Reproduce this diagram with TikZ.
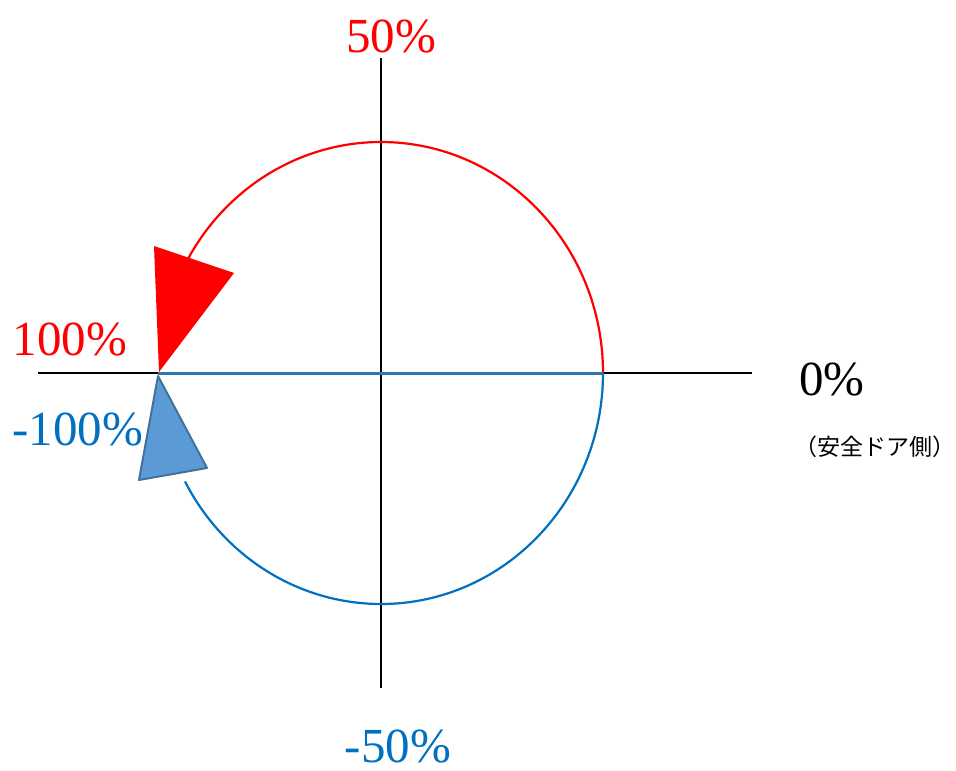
\documentclass[tikz,border=0pt]{standalone}
\usepackage{fontspec}
\setmainfont{Liberation Serif}
\newfontfamily\jpfont{Noto Sans CJK JP}
\definecolor{dirred}{HTML}{FF0000}
\definecolor{dirblue}{HTML}{0070C0}
\definecolor{lineblue}{HTML}{2E75B6}
\definecolor{tipfill}{HTML}{5B9BD5}
\definecolor{tipdraw}{HTML}{41719C}
\begin{document}
\begin{tikzpicture}[
x=1pt,y=-1pt,
pct/.style={inner sep=0pt,anchor=base,font=\fontsize{49}{49}\selectfont},
axis/.style={black,line width=1.2pt},
half/.style={line width=2.2pt}
]
\useasboundingbox (0,0) rectangle (956,771);
\coordinate (O) at (381,373);
% axes
\coordinate (xl) at (38,373);
\coordinate (xr) at (752,373);
\coordinate (yt) at (381,58);
\coordinate (yb) at (381,688);
\draw[axis] (xl) -- (xr);
\draw[axis] (yt) -- (yb);
% upper half (red)
\coordinate (R) at (603,373);
\draw[half,dirred] (R) arc[start angle=0,end angle=-152,x radius=222,y radius=231];
\fill[dirred] (154,246) -- (234,273) -- (159,372) -- cycle;
% lower half (blue)
\draw[half,dirblue] (R) arc[start angle=0,end angle=152,x radius=222,y radius=231];
\coordinate (L) at (158,373);
\draw[lineblue,line width=3pt] (L) -- (R);
\filldraw[fill=tipfill,draw=tipdraw,line width=2pt,line join=round]
  (158,376) -- (207,468) -- (139,480) -- cycle;
% labels
\node[pct,text=dirred] (p50) at (391,52) {50\%};
\node[pct,text=dirred] (p100) at (70,355) {100\%};
\node[pct,text=dirblue] (m100) at (78,445) {-100\%};
\node[pct,text=black] (p0) at (832,395) {0\%};
\node[pct,text=dirblue] (m50) at (398,762) {-50\%};
\node[inner sep=0pt,font=\jpfont\fontsize{23}{23}\selectfont] (door) at (875,447) {（安全ドア側）};
\end{tikzpicture}
\end{document}
